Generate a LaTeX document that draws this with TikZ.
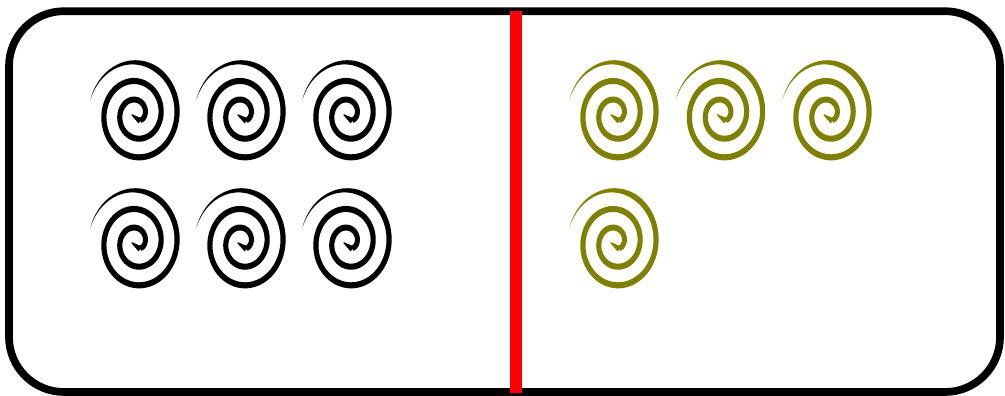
\documentclass[tikz,border=0pt]{standalone}
\usetikzlibrary{calc}
\definecolor{spiralolive}{RGB}{128,128,0}
\tikzset{
  declare function={sr(\t)=44.5-0.0444*(\t-270); sw(\t)=min(5.2,0.05*(\t-195));},
  frame/.style={line width=0.77mm, rounded corners=5.5mm},
  divider/.style={red, line width=1.15mm},
  pics/spiral/.style={code={
    \fill[#1] plot[domain=195:1135, samples=320, variable=\t]
        ({(sr(\t)+sw(\t)/2)*cos(\t)}, {1.17*(sr(\t)+sw(\t)/2)*sin(\t)})
      -- plot[domain=1135:195, samples=320, variable=\t]
        ({(sr(\t)-sw(\t)/2)*cos(\t)}, {1.17*(sr(\t)-sw(\t)/2)*sin(\t)})
      -- cycle;
    \coordinate (-end) at ({sr(1135)*cos(1135)}, {1.17*sr(1135)*sin(1135)});
    \coordinate (-tail) at (-5,-0.5);
    \fill[#1] (-end) ++(2.6,-1.5) -- (-tail) -- ++(0.3,1.6) -- ($(-end)+(-1.5,3)$) -- cycle;
  }}
}
\begin{document}
\begin{tikzpicture}[x=0.1mm, y=-0.1mm]
  \useasboundingbox (0,0) rectangle (1005,396);
  \draw[frame] (9,11.2) rectangle (1000,392);
  \coordinate (dtop) at (516,11.5);
  \coordinate (dbot) at (516,393);
  \draw[divider] (dtop) -- (dbot);
  \foreach \x/\n in {136.5/a,242.5/b,348.5/c}{
    \pic (s1\n) at (\x,114.5) {spiral=black};
    \pic (s2\n) at (\x,242.5) {spiral=black};
  }
  \foreach \x/\n in {615.5/a,722/b,828.5/c}{
    \pic (o1\n) at (\x,114.5) {spiral=spiralolive};
  }
  \pic (o2a) at (615.5,242.5) {spiral=spiralolive};
\end{tikzpicture}
\end{document}
